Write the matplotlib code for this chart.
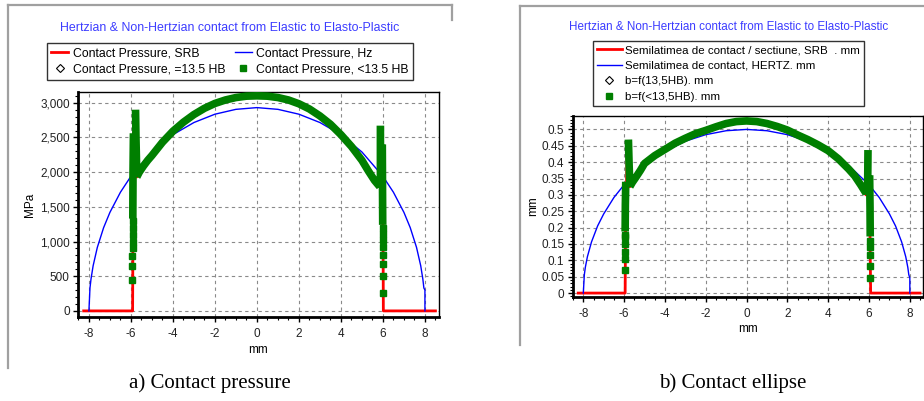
import numpy as np
import matplotlib
matplotlib.use("Agg")
import matplotlib.pyplot as plt
from matplotlib.lines import Line2D
from matplotlib.ticker import MultipleLocator, FuncFormatter

plt.rcParams['font.family'] = ['Liberation Sans', 'DejaVu Sans']
plt.rcParams['axes.unicode_minus'] = False

nan = np.nan

# ---------------- a) contact pressure ----------------
hz_x = [-8.0, -7.95, -7.9, -7.8, -7.6, -7.3, -7.0, -6.5, -6.0, -5.0, -4.0, -3.0, -2.0, -1.0, 0.0,
        1.0, 2.0, 3.0, 4.0, 5.0, 6.0, 6.5, 7.0, 7.3, 7.6, 7.8, 7.9, 7.95, 8.0, 8.0]
hz_p = [0, 330, 460, 650, 915, 1200, 1420, 1710, 1940, 2290, 2540, 2715, 2835, 2905, 2930,
        2905, 2835, 2715, 2540, 2290, 1940, 1710, 1420, 1200, 915, 650, 460, 330, 300, 0]

srb_x = [-8.25, -5.92, -5.9, -5.86, -5.78, -5.72, -5.0, -4.0, -3.0, -2.0, -1.0, 0.0, 1.0, 2.0, 3.0,
         4.0, 5.0, 5.5, 5.84, 5.86, 5.9, 6.0, 6.02, 8.5]
srb_p = [0, 0, 1300, 2580, 2000, 1930, 2240, 2590, 2830, 2990, 3075, 3100, 3075, 2985, 2810,
         2540, 2170, 1950, 1800, 2370, 1930, 1500, 0, 0]

# dense part of "<13.5 HB" (thick band), segments separated by nan
lt_x = [-5.72, -5.6, -5.4, -5.2, -5.0, -4.5, -4.0, -3.5, -3.0, -2.5, -2.0, -1.5, -1.0, -0.5, 0.0,
        0.5, 1.0, 1.5, 2.0, 2.5, 3.0, 3.5, 4.0, 4.5, 5.0, 5.3, 5.6, 5.85, nan,
        -5.91, -5.9, -5.88, nan, -5.72, -5.76, -5.78, nan, 5.88, 5.88, nan, 5.97, 5.98, 5.99]
lt_p = [1930, 2000, 2090, 2170, 2240, 2430, 2590, 2720, 2830, 2920, 2990, 3040, 3075, 3095, 3100,
        3095, 3075, 3040, 2985, 2910, 2810, 2690, 2540, 2370, 2170, 2020, 1880, 1790, nan,
        1330, 2000, 2560, nan, 1930, 2500, 2900, nan, 1780, 2670, nan, 2400, 1800, 1240]
# separate points of "<13.5 HB"
lt_dots_x = [-5.92, -5.92, -5.92, -5.92, -5.92, -5.93, -5.93, -5.93,
             6.0, 6.0, 6.0, 6.0, 6.0, 6.0, 6.0, 6.0]
lt_dots_p = [1290, 1190, 1100, 1000, 900, 790, 640, 450,
             1190, 1110, 1020, 925, 805, 675, 510, 255]
eq_x = []
eq_p = []

# ---------------- b) contact ellipse ----------------
hzb_x = hz_x
hzb_b = [0, 0.056, 0.079, 0.111, 0.156, 0.205, 0.242, 0.292, 0.331, 0.390, 0.433, 0.464, 0.484, 0.496, 0.5,
         0.496, 0.484, 0.464, 0.433, 0.390, 0.331, 0.292, 0.242, 0.205, 0.156, 0.111, 0.079, 0.056, 0.046, 0]

srbb_x = [-8.25, -5.95, -5.93, -5.85, -5.79, -5.72, -5.0, -4.0, -3.0, -2.0, -1.0, 0.0, 1.0, 2.0, 3.0,
          4.0, 5.0, 5.5, 5.85, 5.9, 6.05, 6.08, 8.5]
srbb_b = [0, 0, 0.19, 0.437, 0.33, 0.325, 0.396, 0.439, 0.470, 0.493, 0.518, 0.526, 0.518, 0.498, 0.470,
          0.435, 0.379, 0.34, 0.30, 0.40, 0.18, 0, 0]

ltb_x = [-5.72, -5.6, -5.4, -5.2, -5.0, -4.5, -4.0, -3.5, -3.0, -2.5, -2.0, -1.5, -1.0, -0.5, 0.0,
         0.5, 1.0, 1.5, 2.0, 2.5, 3.0, 3.5, 4.0, 4.5, 5.0, 5.3, 5.6, 5.85, nan,
         -5.95, -5.94, -5.92, nan, -5.72, -5.76, -5.79, nan, 5.93, 5.95, nan, 6.03, 6.05, 6.06]
ltb_b = [0.325, 0.338, 0.356, 0.375, 0.396, 0.420, 0.439, 0.458, 0.473, 0.487, 0.497, 0.508, 0.518, 0.524, 0.526,
         0.524, 0.518, 0.509, 0.498, 0.483, 0.469, 0.453, 0.435, 0.410, 0.379, 0.358, 0.330, 0.305, nan,
         0.188, 0.27, 0.34, nan, 0.325, 0.40, 0.469, nan, 0.30, 0.437, nan, 0.36, 0.26, 0.173]
ltb_dots_x = [-5.95, -5.95, -5.95, -5.95, -5.95, -5.96,
              6.06, 6.06, 6.06, 6.06, 6.06]
ltb_dots_b = [0.178, 0.171, 0.150, 0.127, 0.104, 0.071,
              0.160, 0.142, 0.115, 0.084, 0.046]

W, H = 924, 401
fig = plt.figure(figsize=(W / 100, H / 100), dpi=100)


def fx(px):
    return px / W


def fy(py):
    return 1 - py / H


GREEN = '#007f00'
TITLE_C = '#3c3cff'


def style_axes(ax, ymaj, ymin, fmt):
    ax.set_xlim(-8.52, 8.67)
    ax.xaxis.set_major_locator(MultipleLocator(2))
    ax.xaxis.set_minor_locator(MultipleLocator(0.5))
    ax.yaxis.set_major_locator(MultipleLocator(ymaj))
    ax.yaxis.set_minor_locator(MultipleLocator(ymin))
    ax.yaxis.set_major_formatter(FuncFormatter(fmt))
    ax.grid(True, which='major', color='#8a8a8a', lw=0.8, ls=(0, (3, 3)))
    ax.set_axisbelow(True)
    for s in ('left', 'bottom'):
        ax.spines[s].set_linewidth(2)
    for s in ('top', 'right'):
        ax.spines[s].set_linewidth(1)
    ax.tick_params(which='major', direction='out', length=3.5, width=1, labelsize=8.5,
                   labelcolor='#222222', pad=2.5)
    ax.tick_params(axis='x', which='major', pad=4.5)
    ax.tick_params(which='minor', direction='out', length=2, width=0.8)


# ----- panel a -----
ax1 = fig.add_axes([fx(78), fy(317), fx(439 - 78), (317 - 92) / H])
ax1.plot(hz_x, hz_p, color='#0000ff', lw=1, label='Contact Pressure, Hz', zorder=3)
ax1.plot(srb_x, srb_p, color='#ff0000', lw=2, label='Contact Pressure, SRB', zorder=2)
ax1.plot(eq_x, eq_p, ls='none', marker='D', ms=4, mfc='white', mec='black', mew=0.8,
         label='Contact Pressure, =13.5 HB')
ax1.plot(lt_x, lt_p, color=GREEN, lw=5.5, solid_capstyle='butt', zorder=4)
ax1.plot(lt_dots_x, lt_dots_p, ls='none', marker='s', ms=4, color=GREEN, zorder=4,
         label='Contact Pressure, <13.5 HB')
ax1.set_ylim(-88, 3155)
style_axes(ax1, 500, 100, lambda v, p: f'{v:,.0f}')
ax1.set_xlabel('mm', fontsize=8.5, labelpad=3)
ax1.set_ylabel('MPa', fontsize=8.5, labelpad=3)

h, l = ax1.get_legend_handles_labels()
order = [1, 2, 0, 3]
leg1 = fig.legend([h[i] for i in order], [l[i] for i in order], ncol=2, loc='upper center',
                  bbox_to_anchor=(fx(230), fy(43)), fontsize=8.8, frameon=True, fancybox=False,
                  edgecolor='black', handlelength=1.4, handletextpad=0.35, columnspacing=0.8,
                  borderpad=0.35, labelspacing=0.35, borderaxespad=0)
leg1.get_frame().set_linewidth(1)
fig.text(fx(230), fy(28), 'Hertzian & Non-Hertzian contact from Elastic to Elasto-Plastic',
         color=TITLE_C, fontsize=8.9, ha='center', va='center')

# ----- panel b -----
ax2 = fig.add_axes([fx(572.7), fy(297), fx(923.5 - 572.7), (297 - 116) / H])
ax2.plot(srbb_x, srbb_b, color='#ff0000', lw=2, label='Semilatimea de contact / sectiune, SRB  . mm', zorder=2)
ax2.plot(hzb_x, hzb_b, color='#0000ff', lw=1, label='Semilatimea de contact, HERTZ. mm', zorder=3)
ax2.plot(eq_x, eq_p, ls='none', marker='D', ms=4, mfc='white', mec='black', mew=0.8,
         label='b=f(13,5HB). mm')
ax2.plot(ltb_x, ltb_b, color=GREEN, lw=5.5, solid_capstyle='butt', zorder=4)
ax2.plot(ltb_dots_x, ltb_dots_b, ls='none', marker='s', ms=4, color=GREEN, zorder=4,
         label='b=f(<13,5HB). mm')
ax2.set_ylim(-0.012, 0.541)
style_axes(ax2, 0.05, 0.01, lambda v, p: f'{v:.2f}'.rstrip('0').rstrip('.') if abs(v) > 1e-9 else '0')
ax2.set_xlabel('mm', fontsize=8.5, labelpad=2)
ax2.set_ylabel('mm', fontsize=8.5)
ax2.yaxis.set_label_coords(-0.095, 0.5)

leg2 = fig.legend(*ax2.get_legend_handles_labels(), ncol=1, loc='upper center',
                  bbox_to_anchor=(fx(728.5), fy(41)), fontsize=8.25, frameon=True, fancybox=False,
                  edgecolor='black', handlelength=2.2, handletextpad=0.3,
                  borderpad=0.35, labelspacing=0.48, borderaxespad=0)
leg2.get_frame().set_linewidth(1)
fig.text(fx(729), fy(27), 'Hertzian & Non-Hertzian contact from Elastic to Elasto-Plastic',
         color=TITLE_C, fontsize=8.35, ha='center', va='center')

# ----- panel frames -----
fc = '#a0a0a0'
for xs, ys in [([8, 452], [5, 5]), ([8, 8], [5, 368]), ([452, 452], [5, 20]),
               ([520, 924], [6, 6]), ([520, 520], [6, 345])]:
    fig.add_artist(Line2D([fx(v) for v in xs], [fy(v) for v in ys], color=fc, lw=1.6))

# ----- captions -----
fig.text(fx(210), fy(383), 'a) Contact pressure', family=['Liberation Serif', 'DejaVu Serif'],
         fontsize=15, ha='center', va='center')
fig.text(fx(733), fy(383), 'b) Contact ellipse', family=['Liberation Serif', 'DejaVu Serif'],
         fontsize=15, ha='center', va='center')

fig.savefig('out.png', dpi=100)
